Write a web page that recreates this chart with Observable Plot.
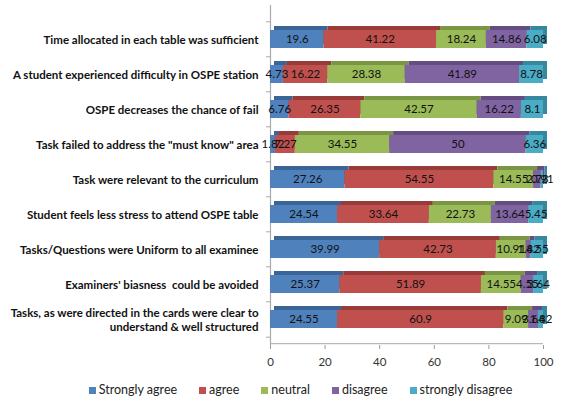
<!DOCTYPE html>
<html>
<head>
<meta charset="utf-8">
<script src="https://cdn.jsdelivr.net/npm/d3@7"></script>
<script src="https://cdn.jsdelivr.net/npm/@observablehq/plot@0.6"></script>
<style>
  body { margin: 0; background: #fff; font-family: Lato, "Open Sans", sans-serif; }
  #chart { width: 571px; }
  .legend { display: flex; justify-content: center; gap: 22px; font-size: 12.5px; color: #222; margin-top: 10px; padding-left: 30px; }
  .legend span.sw { display: inline-block; width: 7px; height: 7px; margin-right: 3px; }
</style>
</head>
<body>
<div id="chart"></div>
<script>
const questions = [
  "Time allocated in each table was sufficient",
  "A student experienced difficulty in OSPE station",
  "OSPE decreases the chance of fail",
  "Task failed to address the \"must know\" area",
  "Task were relevant to the curriculum",
  "Student feels less stress to attend OSPE table",
  "Tasks/Questions were Uniform to all examinee",
  "Examiners' biasness  could be avoided",
  "Tasks, as were directed in the cards were clear to\nunderstand & well structured"
];
const categories = ["Strongly agree", "agree", "neutral", "disagree", "strongly disagree"];
const colors = ["#4F81BD", "#C0504D", "#9BBB59", "#8064A2", "#4BACC6"];
const darkColors = ["#3A6597", "#983C3A", "#7A9644", "#634D81", "#36889E"];
const stronglyAgree   = [19.6, 4.73, 6.76, 1.82, 27.26, 24.54, 39.99, 25.37, 24.55];
const agree           = [41.22, 16.22, 26.35, 7.27, 54.55, 33.64, 42.73, 51.89, 60.9];
const neutral         = [18.24, 28.38, 42.57, 34.55, 14.55, 22.73, 10.91, 14.55, 9.09];
const disagree        = [14.86, 41.89, 16.22, 50, 2.73, 13.64, 1.82, 4.55, 3.64];
const stronglyDisagree= [6.08, 8.78, 8.1, 6.36, 0.91, 5.45, 4.55, 3.64, 1.82];
const xTicks = [0, 20, 40, 60, 80, 100];

const series = [stronglyAgree, agree, neutral, disagree, stronglyDisagree];
const data = [];
questions.forEach((q, i) => {
  categories.forEach((c, j) => {
    data.push({ q, cat: c, value: series[j][i] });
  });
});

const step = 318.6 / 9;
const lastQ = questions[questions.length - 1];

const plot = Plot.plot({
  width: 571,
  height: 372,
  marginLeft: 270,
  marginRight: 28,
  marginTop: 19,
  marginBottom: 34,
  style: { fontFamily: "Lato, 'Open Sans', sans-serif", background: "#fff" },
  x: { domain: [0, 100] },
  y: { domain: questions, paddingInner: 0.5, paddingOuter: 0.25, label: null },
  color: { domain: categories, range: colors },
  marks: [
    // left wall
    Plot.ruleX([0], { stroke: "#aaa", strokeWidth: 1.2, insetTop: -14, insetBottom: -7 }),
    Plot.ruleY(questions, { y: d => d, x1: -1.5, x2: 0, dy: -step / 2, stroke: "#aaa" }),
    Plot.ruleY([lastQ], { y: d => d, x1: -1.5, x2: 0, dy: step / 2, stroke: "#aaa" }),
    // floor line
    Plot.ruleY([lastQ], { y: d => d, x1: 0, x2: 100, dy: step / 2 + 6.5, stroke: "#aaa" }),
    // 3D depth (shifted darker bars)
    Plot.barX(data, Plot.stackX({
      x: "value", y: "q", z: "cat", order: categories,
      fill: d => darkColors[categories.indexOf(d.cat)],
      dx: 4, dy: -4
    })),
    Plot.barX(data, Plot.stackX({ x: "value", y: "q", z: "cat", fill: "cat", order: categories })),
    Plot.text(data, Plot.stackX({
      x: "value", y: "q", z: "cat", order: categories,
      text: d => String(d.value),
      fill: "#111", fontSize: 11.5
    })),
    Plot.axisX({ ticks: xTicks, tickSize: 4, tickPadding: 8, dy: 7, stroke: "#999", fill: "#333", fontSize: 11.5, label: null }),
    Plot.axisY({ tickSize: 0, tickPadding: 12, fontSize: 11.5, fontWeight: "bold", fill: "#111", label: null, lineHeight: 1.2 })
  ]
});

document.getElementById("chart").appendChild(plot);

const legend = document.createElement("div");
legend.className = "legend";
categories.forEach((c, j) => {
  const item = document.createElement("span");
  item.innerHTML = `<span class="sw" style="background:${colors[j]}"></span>${c}`;
  legend.appendChild(item);
});
document.getElementById("chart").appendChild(legend);
</script>
</body>
</html>
